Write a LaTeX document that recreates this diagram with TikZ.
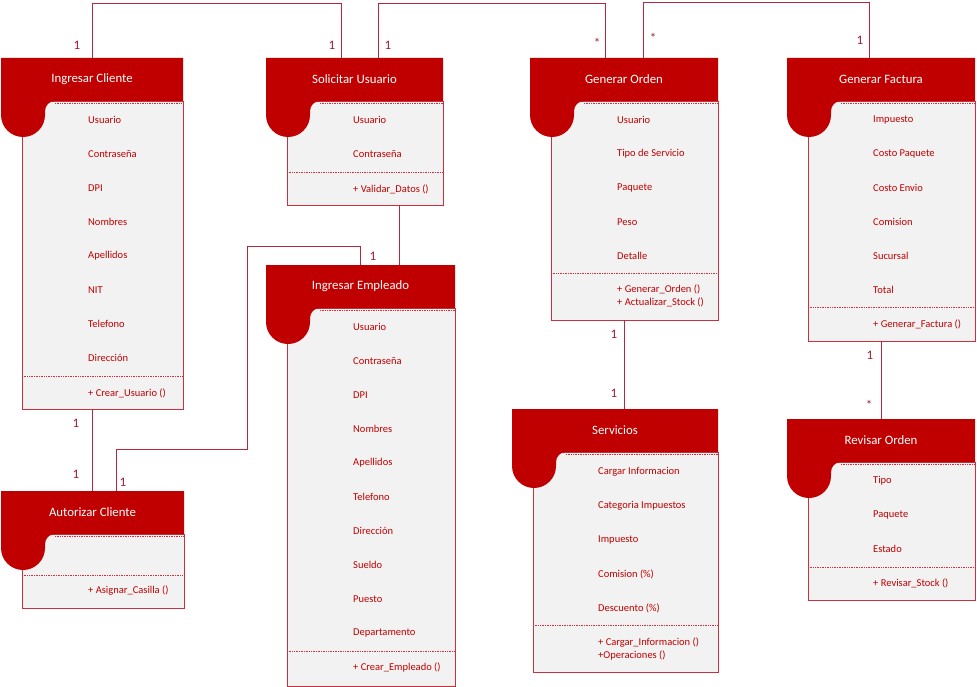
\documentclass[tikz,border=0pt]{standalone}
\usepackage{fontspec}
\setmainfont{Carlito}
\usepackage{tikz}
\usetikzlibrary{positioning}

\definecolor{hdrred}{HTML}{C00000}
\definecolor{bodygray}{HTML}{F2F2F2}
\definecolor{boxred}{HTML}{C8323F}
\definecolor{txtred}{HTML}{C00000}
\definecolor{linkred}{HTML}{B8283C}
\definecolor{multred}{HTML}{9E1B32}

\tikzstyle{hdr}=[fill=hdrred]
\tikzstyle{body}=[fill=bodygray, draw=boxred, line width=0.9pt]
\tikzstyle{sepline}=[draw=boxred, densely dotted, line width=0.7pt]
\tikzstyle{title}=[text=white, inner sep=0, font=\fontsize{12.8}{14}\selectfont]
\tikzstyle{attr}=[anchor=west, text=txtred, inner sep=0, align=left, font=\fontsize{10.5}{12.5}\selectfont]
\tikzstyle{link}=[draw=linkred, line width=0.9pt]
\tikzstyle{mult}=[text=multred, inner sep=0, font=\fontsize{13}{15}\selectfont]

% id, x0, y0, x1, bottom, separator, title
\newcommand{\classbox}[7]{%
  \path[body] (#2+21,#3+43) rectangle (#4,#5);
  \draw[sepline] (#2+54,#3+45) -- (#4,#3+45);
  \draw[sepline] (#2+21,#6) -- (#4,#6);
  \path[hdr] (#2,#3) -- (#4,#3) -- (#4,#3+43) -- (#2+54,#3+43)
    to[out=180, in=90] (#2+44,#3+53) -- (#2+44,#3+57)
    to[out=-90, in=0] (#2+22,#3+79) to[out=180, in=-90] (#2,#3+57) -- cycle;
  \node[title] (#1) at ({(#2+#4)/2},#3+21) {#7};
}

\begin{document}
\begin{tikzpicture}[x=1pt, y=-1pt]
            \useasboundingbox (0,0) rectangle (977,687);

            % classes
            \classbox{cli}{1}{58}{183}{409}{376}{Ingresar Cliente}
            \foreach \t [count=\i] in {Usuario, Contraseña, DPI, Nombres, Apellidos, NIT, Telefono, Dirección}
                \node[attr] (cli-a\i) at (88,86+34*\i) {\t};
            \node[attr] (cli-m) at (88,393) {+ Crear\_Usuario ()};

            \classbox{sol}{266}{58}{443}{205}{172}{Solicitar Usuario}
            \foreach \t [count=\i] in {Usuario, Contraseña}
                \node[attr] (sol-a\i) at (353,86+34*\i) {\t};
            \node[attr] (sol-m) at (353,189) {+ Validar\_Datos ()};

            \classbox{ord}{530}{58}{718}{320}{273}{Generar Orden}
            \foreach \t [count=\i] in {Usuario, Tipo de Servicio, Paquete, Peso, Detalle}
                \node[attr] (ord-a\i) at (617,86+34*\i) {\t};
            \node[attr] (ord-m) at (617,296) {+ Generar\_Orden ()\\+ Actualizar\_Stock ()};

            \classbox{fac}{787}{58}{975}{341}{307}{Generar Factura}
            \foreach \t [count=\i] in {Impuesto, Costo Paquete, Costo Envio, Comision, Sucursal, Total}
                \node[attr] (fac-a\i) at (873,86+34*\i) {\t};
            \node[attr] (fac-m) at (873,324) {+ Generar\_Factura ()};

            \classbox{emp}{266}{265}{455}{686}{651}{Ingresar Empleado}
            \foreach \t [count=\i] in {Usuario, Contraseña, DPI, Nombres, Apellidos, Telefono, Dirección, Sueldo, Puesto, Departamento}
                \node[attr] (emp-a\i) at (353,293+34*\i) {\t};
            \node[attr] (emp-m) at (353,668) {+ Crear\_Empleado ()};

            \classbox{ser}{512}{409}{718}{672}{625}{Servicios}
            \foreach \t [count=\i] in {Cargar Informacion, Categoria Impuestos, Impuesto, Comision (\%), Descuento (\%)}
                \node[attr] (ser-a\i) at (598,438+34*\i) {\t};
            \node[attr] (ser-m) at (598,649) {+ Cargar\_Informacion ()\\+Operaciones ()};

            \classbox{rev}{787}{419}{975}{600}{567}{Revisar Orden}
            \foreach \t [count=\i] in {Tipo, Paquete, Estado}
                \node[attr] (rev-a\i) at (873,447+34*\i) {\t};
            \node[attr] (rev-m) at (873,583) {+ Revisar\_Stock ()};

            \classbox{aut}{1}{491}{184}{608}{575}{Autorizar Cliente}
            \node[attr] (aut-m) at (88,591) {+ Asignar\_Casilla ()};

            % ports
            \coordinate (cli-n) at (92,58);
            \coordinate (cli-s) at (92,409);
            \coordinate (sol-n1) at (341,58);
            \coordinate (sol-n2) at (378,58);
            \coordinate (sol-s) at (399,205);
            \coordinate (ord-n1) at (605,58);
            \coordinate (ord-n2) at (643,58);
            \coordinate (ord-s) at (624,320);
            \coordinate (fac-n) at (869,58);
            \coordinate (fac-s) at (881,341);
            \coordinate (emp-n1) at (360,265);
            \coordinate (emp-n2) at (399,265);
            \coordinate (ser-n) at (624,409);
            \coordinate (rev-n) at (881,419);
            \coordinate (aut-n1) at (92,491);
            \coordinate (aut-n2) at (116,491);

            % associations
            \draw[link] (cli-n) -- ++(0,-55) -| (sol-n1);
            \draw[link] (sol-n2) -- ++(0,-55) -| (ord-n1);
            \draw[link] (ord-n2) -- ++(0,-56) -| (fac-n);
            \draw[link] (cli-s) -- (aut-n1);
            \draw[link] (sol-s) -- (emp-n2);
            \draw[link] (aut-n2) -- (116,449) -- (247,449) -- (247,246) -- (360,246) -- (emp-n1);
            \draw[link] (ord-s) -- (ser-n);
            \draw[link] (fac-s) -- (rev-n);

            % multiplicities
            \node[mult] (m1) at (77,45) {1};
            \node[mult] (m2) at (332,45) {1};
            \node[mult] (m3) at (388,45) {1};
            \node[mult] (m4) at (597,43) {*};
            \node[mult] (m5) at (653,38) {*};
            \node[mult] (m6) at (860,40) {1};
            \node[mult] (m7) at (76,423) {1};
            \node[mult] (m8) at (76,474) {1};
            \node[mult] (m9) at (373,256) {1};
            \node[mult] (m10) at (123,482) {1};
            \node[mult] (m11) at (614,334) {1};
            \node[mult] (m12) at (614,393) {1};
            \node[mult] (m13) at (870,355) {1};
            \node[mult] (m14) at (869,405) {*};
        \end{tikzpicture}
\end{document}
